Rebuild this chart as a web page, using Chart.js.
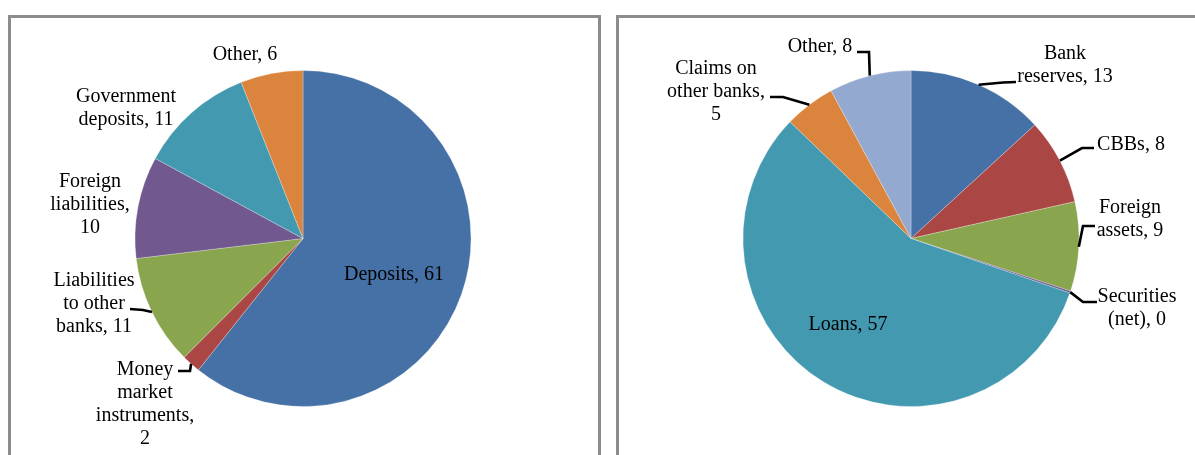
<!DOCTYPE html>
<html><head><meta charset="utf-8">
<script src="https://cdn.jsdelivr.net/npm/chart.js@4.4.0/dist/chart.umd.min.js"></script>
<style>
html,body{margin:0;padding:0;background:#fff;width:1195px;height:455px;overflow:hidden;}
.box{position:absolute;top:15px;height:500px;border:3px solid #8c8c8c;border-bottom:none;box-sizing:border-box;}
#box1{left:8px;width:593px;}
#box2{left:616px;width:700px;}
canvas{position:absolute;top:0;}
#c1{left:0;}
#c2{left:600px;}
</style></head><body>
<div class="box" id="box1"></div><div class="box" id="box2"></div>
<canvas id="c1" width="600" height="455"></canvas>
<canvas id="c2" width="595" height="455"></canvas>
<script>
// ---------- DATA ----------
const liabCategories = ['Deposits', 'Money\nmarket\ninstruments', 'Liabilities\nto other\nbanks', 'Foreign\nliabilities', 'Government\ndeposits', 'Other'];
const liabValues = [60.7, 1.8, 10.6, 9.8, 11.1, 6.0];
const liabValueOnNewLine = [false, true, false, true, false, false];

const assetCategories = ['Bank\nreserves', 'CBBs', 'Foreign\nassets', 'Securities\n(net)', 'Loans', 'Claims on\nother banks', 'Other'];
const assetValues = [13.2, 8.3, 8.6, 0.2, 57.0, 4.9, 7.9];
const assetValueOnNewLine = [false, false, false, false, false, true, false];

// ---------- STYLE ----------
const liabColors = ['#4571A6', '#AA4644', '#89A54E', '#71588F', '#4299B0', '#DB843D'];
const assetColors = ['#4571A6', '#AA4644', '#89A54E', '#71588F', '#4299B0', '#DB843D', '#93A9D0'];

// label layout: offsets from pie centre (pixels)
const liabLayout = [
  {pos:[91, 34.5]},
  {pos:[-158, 164], attach:[-125, 132.5], elbow:[-113, 132.5]},
  {pos:[-209, 63.5], attach:[-173, 70.5], elbow:[-160, 71.5]},
  {pos:[-213, -35.5]},
  {pos:[-177, -131.5]},
  {pos:[-58, -185.5]}
];
const assetLayout = [
  {pos:[154, -175], attach:[105, -156.5], elbow:[92, -156]},
  {pos:[220, -95.5], attach:[183, -90.5], elbow:[171, -90.5]},
  {pos:[219, -21], attach:[184, -12.5], elbow:[172, -12.5]},
  {pos:[226, 68], attach:[186, 63.5], elbow:[172, 63.5]},
  {pos:[-63, 84.5]},
  {pos:[-195, -148], attach:[-141, -141.5], elbow:[-128, -141.5]},
  {pos:[-91, -193.5], attach:[-54, -186.5], elbow:[-42, -186.5]}
];

function makeTexts(cats, vals, nl){
  return cats.map((c,i)=> c + ',' + (nl[i] ? '\n' : ' ') + Math.round(vals[i]));
}

const labelPlugin = {
  id:'pieLabels',
  afterDatasetsDraw(chart, args, opts){
    const ctx = chart.ctx;
    const meta = chart.getDatasetMeta(0);
    ctx.save();
    meta.data.forEach((arc,i)=>{
      const p = arc.getProps(['x','y','startAngle','endAngle','outerRadius'], true);
      const L = opts.layout[i];
      if (L.attach){
        const mid = (p.startAngle + p.endAngle)/2;
        const ex = p.x + p.outerRadius*Math.cos(mid), ey = p.y + p.outerRadius*Math.sin(mid);
        ctx.beginPath();
        ctx.moveTo(p.x+L.attach[0], p.y+L.attach[1]);
        ctx.lineTo(p.x+L.elbow[0], p.y+L.elbow[1]);
        ctx.lineTo(ex, ey);
        ctx.strokeStyle = '#000'; ctx.lineWidth = 2.6; ctx.lineJoin = 'miter';
        ctx.stroke();
      }
      const lines = opts.texts[i].split('\n');
      ctx.font = '20px "Liberation Serif", "Times New Roman", serif';
      ctx.fillStyle = '#000'; ctx.textAlign = 'center'; ctx.textBaseline = 'middle';
      const lh = 23;
      const y0 = p.y + L.pos[1] + 1.5 - (lines.length-1)*lh/2;
      lines.forEach((ln,k)=> ctx.fillText(ln, p.x+L.pos[0], y0 + k*lh));
    });
    ctx.restore();
  }
};

function makePie(id, cats, vals, colors, layout, nl, pad){
  new Chart(document.getElementById(id), {
    type:'pie',
    data:{ labels: cats, datasets:[{ data: vals, backgroundColor: colors, borderColor:'rgba(255,255,255,0.35)', borderWidth:0.75, hoverOffset:0, radius:168 }] },
    options:{
      responsive:false, animation:false, devicePixelRatio:1,
      layout:{ padding: pad },
      plugins:{ legend:{display:false}, tooltip:{enabled:false},
        pieLabels:{ layout: layout, texts: makeTexts(cats, vals, nl) } }
    },
    plugins:[labelPlugin]
  });
}

makePie('c1', liabCategories, liabValues, liabColors, liabLayout, liabValueOnNewLine, {left:6, right:0, top:22, bottom:0});
makePie('c2', assetCategories, assetValues, assetColors, assetLayout, assetValueOnNewLine, {left:27, right:0, top:22, bottom:0});
</script>
</body></html>
